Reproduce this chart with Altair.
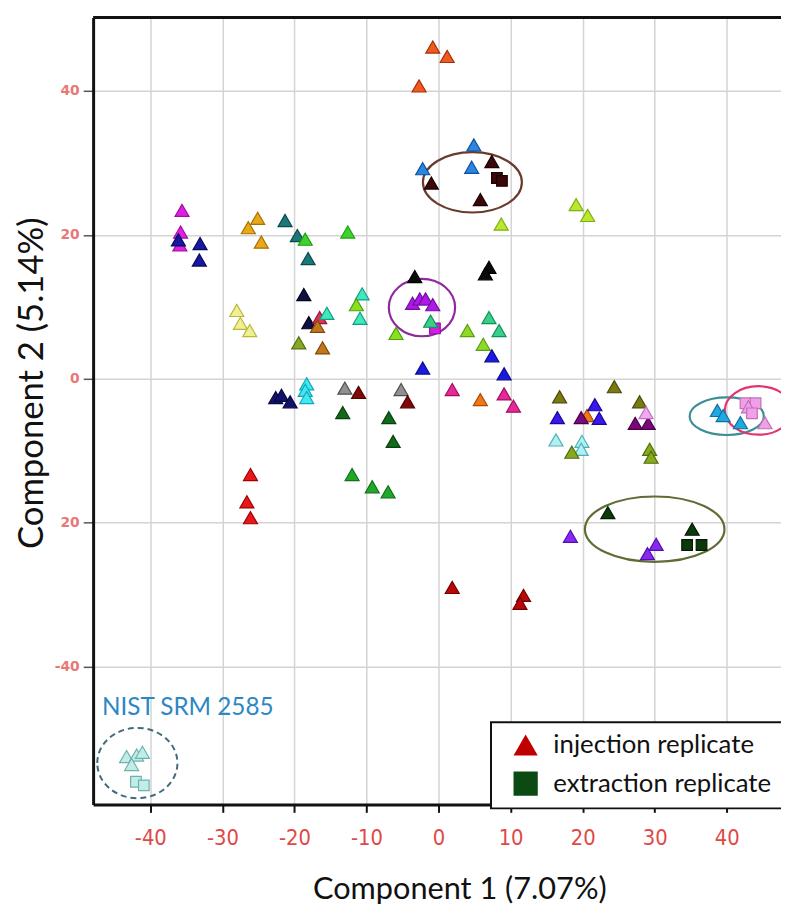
import altair as alt
import pandas as pd

# ---------------- data ----------------
pc1 = [
    -0.8, 1.2, -2.7,                      # orange-red
    -2.2, 4.9, 4.6,                       # azure
    7.4, -1.0, 5.8, 8.1, 8.8,             # dark brown
    19.1, 20.7, 8.7,                      # light yellow-green
    7.0, 6.5, -3.3,                       # black
    -35.6, -35.8, -35.9,                  # magenta
    -36.1, -33.1, -33.2,                  # navy blue
    -25.1, -26.4, -24.6,                  # gold
    -21.3, -19.6, -18.1,                  # teal
    -18.5, -12.6,                         # green
    -18.7, -18.0,                         # navy black
    -16.5,                                # pink red
    -10.6, -10.9, -15.5,                  # aqua
    -11.4, -5.9,                          # yellow-green
    -28.0, -27.5, -26.2,                  # pale yellow
    -16.8, -16.1,                         # brown orange
    -19.4,                                # olive green
    -3.6, -2.6, -1.8, -0.8, -0.5,         # purple cluster
    -1.1, 7.0, 8.4,                       # green aqua
    4.0, 6.2,                             # yellow-green 3
    -2.2, 7.4, 9.1,                       # blue
    -22.6, -21.8, -20.6,                  # navy
    -18.3, -18.5, -18.3,                  # cyan
    -13.0, -5.2,                          # gray
    -11.1, -4.3,                          # dark red
    -13.3, -6.9, -6.3,                    # dark green
    -12.0, -9.2, -7.0,                    # green 2
    -26.1, -26.6, -26.1,                  # red
    1.9, 9.1, 10.4,                       # pink magenta
    5.8, 20.6,                            # orange
    16.8, 24.4, 27.9,                     # olive
    16.5, 21.7, 22.3,                     # blue violet
    19.8, 27.3, 29.1,                     # dark purple
    28.8,                                 # light pink
    16.3, 19.9, 19.8,                     # light cyan
    18.5, 29.3, 29.5,                     # olive green 2
    38.7, 39.5, 41.9,                     # light blue
    42.6, 44.0, 43.0, 43.5, 45.3,         # pink
    23.5, 35.2, 34.5, 36.5,               # very dark green
    18.3, 30.2, 29.0,                     # violet
    1.9, 11.8, 11.3,                      # crimson
    -43.3, -41.9, -41.1, -42.6, -42.0, -40.9,  # NIST SRM 2585
]
pc2 = [
    46.1, 44.8, 40.7,
    29.2, 32.5, 29.4,
    30.2, 27.2, 24.9, 27.9, 27.5,
    24.2, 22.7, 21.5,
    15.5, 14.6, 14.2,
    23.4, 20.4, 18.6,
    19.3, 18.8, 16.5,
    22.3, 21.0, 19.0,
    22.0, 19.9, 16.7,
    19.4, 20.4,
    11.7, 7.8,
    8.5,
    11.8, 8.4, 9.1,
    10.3, 6.3,
    9.5, 7.7, 6.7,
    7.3, 4.3,
    5.0,
    10.5, 11.1, 11.1, 10.3, 7.0,
    8.0, 8.5, 6.7,
    6.7, 4.8,
    1.5, 3.2, 0.7,
    -2.6, -2.3, -3.2,
    -0.7, -1.6, -2.6,
    -1.3, -1.5,
    -1.9, -3.2,
    -4.7, -5.4, -8.7,
    -13.3, -15.0, -15.7,
    -13.3, -17.1, -19.3,
    -1.5, -2.1, -3.8,
    -2.9, -5.1,
    -2.5, -1.1, -3.2,
    -5.4, -3.6, -5.5,
    -5.4, -6.2, -6.2,
    -4.7,
    -8.5, -8.7, -9.8,
    -10.2, -9.8, -10.9,
    -4.4, -5.1, -6.1,
    -3.4, -3.4, -3.9, -4.8, -6.1,
    -18.6, -20.9, -23.1, -23.1,
    -21.9, -23.0, -24.3,
    -29.0, -30.1, -31.2,
    -52.5, -52.3, -51.9, -53.6, -56.0, -56.5,
]
sample = (
    ["S01"] * 3 + ["S02"] * 3 + ["S03"] * 5 + ["S04"] * 3 + ["S05"] * 3
    + ["S06"] * 3 + ["S07"] * 3 + ["S08"] * 3 + ["S09"] * 3 + ["S10"] * 2
    + ["S11"] * 2 + ["S42"] + ["S12"] * 3 + ["S13"] * 2 + ["S14"] * 3
    + ["S15"] * 2 + ["S16"] + ["S17"] * 4 + ["S17b"] + ["S18"] * 3
    + ["S19"] * 2 + ["S20"] * 3 + ["S21"] * 3 + ["S22"] * 3 + ["S23"] * 2
    + ["S24"] * 2 + ["S25"] * 3 + ["S26"] * 3 + ["S27"] * 3 + ["S28"] * 3
    + ["S29"] * 2 + ["S30"] * 3 + ["S31"] * 3 + ["S32"] * 3 + ["S33"]
    + ["S34"] * 3 + ["S35"] * 3 + ["S36"] * 3 + ["S37"] * 5 + ["S38"] * 4
    + ["S39"] * 3 + ["S40"] * 3 + ["NIST"] * 6
)
T, Q = "injection replicate", "extraction replicate"
replicate = (
    [T] * 3 + [T] * 3 + [T] * 3 + [Q] * 2 + [T] * 3 + [T] * 3
    + [T] * 3 + [T] * 3 + [T] * 3 + [T] * 3 + [T] * 2
    + [T] * 2 + [T] + [T] * 3 + [T] * 2 + [T] * 3
    + [T] * 2 + [T] + [T] * 4 + [Q] + [T] * 3
    + [T] * 2 + [T] * 3 + [T] * 3 + [T] * 3 + [T] * 2
    + [T] * 2 + [T] * 3 + [T] * 3 + [T] * 3 + [T] * 3
    + [T] * 2 + [T] * 3 + [T] * 3 + [T] * 3 + [T]
    + [T] * 3 + [T] * 3 + [T] * 3 + [Q, Q, T, Q, T] + [T, T, Q, Q]
    + [T] * 3 + [T] * 3 + [T] * 4 + [Q] * 2
)

# ---------------- styles ----------------
fill_of = {
    "S01": "#f05a1e", "S02": "#2a86e0", "S03": "#3a0808", "S04": "#b8e830",
    "S05": "#0a0a0a", "S06": "#e020e0", "S07": "#1818a0", "S08": "#e8a818",
    "S09": "#1a7878", "S10": "#40d030", "S11": "#101040", "S42": "#e03060",
    "S12": "#40e8c0", "S13": "#88e020", "S14": "#f0f090", "S15": "#c07818",
    "S16": "#88a820", "S17": "#b018e8", "S17b": "#d020e0", "S18": "#38d088",
    "S19": "#90d828", "S20": "#1a1ae0", "S21": "#12126a", "S22": "#40e8f0",
    "S23": "#909090", "S24": "#800808", "S25": "#106a18", "S26": "#20a828",
    "S27": "#e81818", "S28": "#e82898", "S29": "#f07818", "S30": "#7a7a10",
    "S31": "#3818e8", "S32": "#7a0a7a", "S33": "#f0a8f0", "S34": "#b0f0f0",
    "S35": "#88a820", "S36": "#20a8e0", "S37": "#f0a0e8", "S38": "#0a3a0a",
    "S39": "#8a28f0", "S40": "#b80808", "NIST": "#c0eee6",
}
stroke_of = {
    "S01": "#a83008", "S02": "#1050a0", "S03": "#200000", "S04": "#80b010",
    "S05": "#000000", "S06": "#a010a0", "S07": "#080860", "S08": "#a87000",
    "S09": "#0a4a4a", "S10": "#20a010", "S11": "#000020", "S42": "#a01030",
    "S12": "#10a080", "S13": "#50a010", "S14": "#b8b840", "S15": "#804808",
    "S16": "#507010", "S17": "#7010a0", "S17b": "#9010a0", "S18": "#10905a",
    "S19": "#58a010", "S20": "#0a0a90", "S21": "#080840", "S22": "#10a8b8",
    "S23": "#505050", "S24": "#500000", "S25": "#084010", "S26": "#107018",
    "S27": "#a00000", "S28": "#a01060", "S29": "#b04808", "S30": "#4a4a08",
    "S31": "#1808a0", "S32": "#4a0048", "S33": "#c070c0", "S34": "#50b0b8",
    "S35": "#507010", "S36": "#1070a0", "S37": "#c070b8", "S38": "#041a04",
    "S39": "#5010b0", "S40": "#700000", "NIST": "#70b0b0",
}

df = pd.DataFrame({"pc1": pc1, "pc2": pc2, "sample": sample, "replicate": replicate})
df["fill"] = df["sample"].map(fill_of)
df["stroke"] = df["sample"].map(stroke_of)

kinds = [T, Q]
legend_df = pd.DataFrame({"replicate": kinds, "pc1": [0.0, 0.0], "pc2": [0.0, 0.0]})

# annotation ellipses: centre (data units), radii (px), colour, dashed
ell_cx = [4.7, -2.3, 40.0, 44.4, 30.0, -41.8]
ell_cy = [27.3, 9.9, -5.2, -4.4, -20.9, -53.4]
ell_rx = [50, 33.5, 37.5, 34, 70.5, 40.5]
ell_ry = [30.5, 29, 19, 24.5, 33, 35.5]
ell_col = ["#6a3a2e", "#8e2a9e", "#3b8e95", "#e23570", "#5f6d35", "#3f6b7e"]
ell_dash = [False, False, False, False, False, True]

W, H = 695, 795
X_DOM = [-47.94, 47.53]
Y_DOM = [-59.15, 50.2]

xscale = alt.Scale(domain=X_DOM, nice=False, zero=False)
yscale = alt.Scale(domain=Y_DOM, nice=False, zero=False)

shape_scale = alt.Scale(domain=kinds, range=["triangle-up", "square"])
color_scale = alt.Scale(domain=kinds, range=["#c00000", "#0b4a12"])

leg = alt.Legend(
    title=None, orient="none", legendX=402, legendY=712,
    strokeColor="#111111", fillColor="white", padding=10,
    symbolSize=600, symbolOffset=12, labelOffset=15, rowPadding=11,
    labelFontSize=26, labelFont="Lato", labelColor="#111111",
    symbolStrokeColor="#300000", symbolStrokeWidth=1, symbolOpacity=1,
    labelLimit=400,
)

LABEL_FIX = "replace(datum.label, '\u2212', '-')"

x_axis = alt.Axis(
    values=[-40, -30, -20, -10, 0, 10, 20, 30, 40],
    labelExpr=LABEL_FIX,
    title="Component 1 (7.07%)", titleFont="Lato", titleFontSize=31,
    titleFontWeight="normal", titleColor="#111111",
    titleX=370, titleY=86, titleBaseline="middle", titleAlign="center",
    labelFont="'Liberation Sans Narrow', 'DejaVu Sans Condensed', 'Roboto Condensed', 'Liberation Sans', sans-serif",
    labelFontSize=22, labelColor="#e04848",
    labelPadding=15, tickSize=8, tickColor="#111111", tickWidth=2,
    domainColor="#111111", domainWidth=3,
    gridColor="#d4d4d4", gridWidth=1.5,
)
y_axis = alt.Axis(
    values=[-40, -20, 0, 20, 40],
    labelExpr="datum.value == -20 ? '20' : " + LABEL_FIX,
    title="Component 2 (5.14%)", titleFont="Lato", titleFontSize=35,
    titleFontWeight="normal", titleColor="#111111",
    titleX=-62, titleY=369, titleAngle=270, titleBaseline="middle", titleAlign="center",
    labelFont="DejaVu Sans", labelFontSize=14, labelFontWeight="bold", labelColor="#e87878",
    labelPadding=4, tickSize=10, tickColor="#555555", tickWidth=1.5,
    domainColor="#111111", domainWidth=3,
    gridColor="#d4d4d4", gridWidth=1.5,
)

base_x = alt.X("pc1:Q", scale=xscale, axis=x_axis)
base_y = alt.Y("pc2:Q", scale=yscale, axis=y_axis)

points = alt.Chart(df).mark_point(filled=True, opacity=1, strokeWidth=1.2).encode(
    x=base_x,
    y=base_y,
    shape=alt.Shape("replicate:N", scale=shape_scale, legend=leg),
    fill=alt.Fill("fill:N", scale=None),
    stroke=alt.Stroke("stroke:N", scale=None),
    size=alt.condition(alt.datum.replicate == T, alt.value(200), alt.value(115)),
)

legend_layer = alt.Chart(legend_df).mark_point(filled=True, opacity=0).encode(
    x=alt.X("pc1:Q", scale=xscale),
    y=alt.Y("pc2:Q", scale=yscale),
    shape=alt.Shape("replicate:N", scale=shape_scale, legend=leg),
    color=alt.Color("replicate:N", scale=color_scale, legend=leg),
)


def ellipse_path(ratio):
    k = 0.5523
    r = ratio
    return (
        f"M -1 0 C -1 {-k*r:.4f} {-k:.4f} {-r:.4f} 0 {-r:.4f} "
        f"C {k:.4f} {-r:.4f} 1 {-k*r:.4f} 1 0 "
        f"C 1 {k*r:.4f} {k:.4f} {r:.4f} 0 {r:.4f} "
        f"C {-k:.4f} {r:.4f} -1 {k*r:.4f} -1 0 Z"
    )


ellipses = []
for cx, cy, rx, ry, col, dash in zip(ell_cx, ell_cy, ell_rx, ell_ry, ell_col, ell_dash):
    kw = dict(
        shape=ellipse_path(ry / rx), size=(2 * rx) ** 2, filled=False,
        stroke=col, strokeWidth=2.2, opacity=1,
    )
    if dash:
        kw["strokeDash"] = [6, 4]
        kw["strokeWidth"] = 2
    e = alt.Chart(pd.DataFrame({"pc1": [cx], "pc2": [cy]})).mark_point(**kw).encode(
        x=alt.X("pc1:Q", scale=xscale), y=alt.Y("pc2:Q", scale=yscale)
    )
    ellipses.append(e)

nist_label = alt.Chart(pd.DataFrame({"pc1": [-46.7], "pc2": [-45.7], "t": ["NIST SRM 2585"]})).mark_text(
    align="left", baseline="middle", font="Lato", fontSize=24.5, color="#2d87c4"
).encode(x=alt.X("pc1:Q", scale=xscale), y=alt.Y("pc2:Q", scale=yscale), text="t:N")

top_border = alt.Chart(pd.DataFrame({"a": [0]})).mark_rule(color="#111111", strokeWidth=3).encode(
    x=alt.value(0), x2=alt.value(W), y=alt.value(0)
)

chart = alt.layer(
    *ellipses, points, legend_layer, nist_label, top_border
).properties(
    width=W, height=H,
    autosize=alt.AutoSizeParams(type="none"),
    padding={"left": 86, "top": 5, "right": 0, "bottom": 100},
).configure_view(stroke=None).configure(background="white").configure_legend(strokeWidth=2)

chart.save("out.html", embed_options={"renderer": "svg", "actions": False})
